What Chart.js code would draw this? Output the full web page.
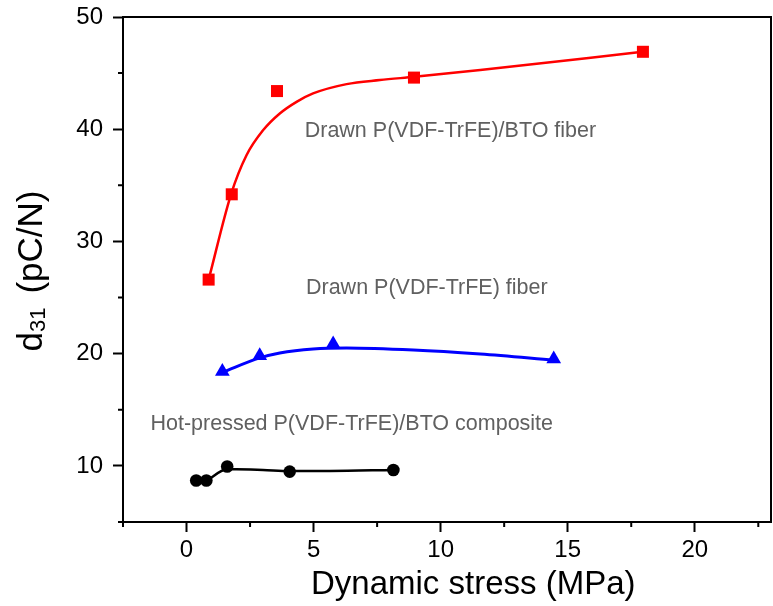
<!DOCTYPE html>
<html>
<head>
<meta charset="utf-8">
<script src="https://cdn.jsdelivr.net/npm/chart.js@4"></script>
<style>
  html, body { margin: 0; padding: 0; background: #fff; }
  canvas { display: block; }
</style>
</head>
<body>
<canvas id="chart" width="773" height="606" style="width:773px;height:606px"></canvas>
<script>
// measured points
const btoFiberX = [0.87, 1.78, 3.56, 8.95, 17.96];
const btoFiberY = [26.6, 34.2, 43.4, 44.6, 46.9];
const fiberX = [1.41, 2.88, 5.77, 14.45];
const fiberY = [18.42, 19.82, 20.87, 19.53];
const hotX = [0.38, 0.78, 1.6, 4.06, 8.14];
const hotY = [8.7, 8.7, 9.94, 9.49, 9.64];

// fitted curves
const btoCurveX = [0.87, 1.76, 2.36, 3.01, 3.67, 4.33, 4.98, 6.30, 7.61, 8.97, 11.56, 17.95];
const btoCurveY = [26.6, 34.26, 37.68, 39.9, 41.4, 42.44, 43.19, 44.02, 44.38, 44.67, 45.27, 46.9];
const fiberCurveX = [1.41, 2.88, 3.67, 4.98, 6.30, 8.93, 11.56, 14.45];
const fiberCurveY = [18.33, 19.62, 20.06, 20.42, 20.51, 20.33, 19.97, 19.44];
const hotCurveX = [0.78, 1.6, 1.96, 3.01, 4.06, 5.64, 8.14];
const hotCurveY = [8.66, 9.70, 9.70, 9.64, 9.55, 9.55, 9.64];

const xTicks = [0, 5, 10, 15, 20];
const yTicks = [10, 20, 30, 40, 50];
const xMinor = [-2.5, 2.5, 7.5, 12.5, 17.5, 22.5];
const yMinor = [5, 15, 25, 35, 45];

const labelTexts = ['Drawn P(VDF-TrFE)/BTO fiber', 'Drawn P(VDF-TrFE) fiber', 'Hot-pressed P(VDF-TrFE)/BTO composite'];
const labelX = [4.65, 4.7, -1.42];
const labelY = [39.8, 25.8, 13.75];

const FONT = '"Liberation Sans", Arial, sans-serif';

function pts(xs, ys) {
  return xs.map((x, i) => ({ x, y: ys[i] }));
}

function markers(xs, ys, color, style, r) {
  return {
    type: 'scatter', data: pts(xs, ys), order: 0,
    pointStyle: style, pointRadius: r, pointHoverRadius: r,
    backgroundColor: color, borderColor: color, borderWidth: 0,
  };
}

function curve(xs, ys, color, w) {
  return {
    type: 'line', data: pts(xs, ys), order: 1,
    borderColor: color, borderWidth: w, pointRadius: 0,
    cubicInterpolationMode: 'monotone', fill: false,
  };
}

// fixed axis box, no label overhang padding
function fixBox(s, size) {
  if (s.isHorizontal()) s.height = size; else s.width = size;
  s.paddingTop = s.paddingBottom = s.paddingLeft = s.paddingRight = 0;
}

const extras = {
  id: 'extras',
  afterDraw(chart) {
    const { ctx, chartArea: a, scales: { x, y } } = chart;
    ctx.save();
    ctx.strokeStyle = '#000';
    ctx.lineWidth = 2;
    ctx.strokeRect(a.left, a.top, a.right - a.left, a.bottom - a.top);

    ctx.beginPath();
    xMinor.forEach(v => {
      const px = x.getPixelForValue(v);
      ctx.moveTo(px, a.bottom);
      ctx.lineTo(px, a.bottom + 5);
    });
    yMinor.forEach(v => {
      const py = y.getPixelForValue(v);
      ctx.moveTo(a.left, py);
      ctx.lineTo(a.left - 5, py);
    });
    ctx.stroke();

    // curve labels
    ctx.fillStyle = '#606060';
    ctx.font = '21.5px ' + FONT;
    ctx.textAlign = 'left';
    ctx.textBaseline = 'middle';
    labelTexts.forEach((t, i) => {
      ctx.fillText(t, x.getPixelForValue(labelX[i]), y.getPixelForValue(labelY[i]));
    });

    // x title
    ctx.fillStyle = '#000';
    ctx.font = '33px ' + FONT;
    ctx.textAlign = 'left';
    ctx.textBaseline = 'alphabetic';
    ctx.fillText('Dynamic stress (MPa)', 311, 594);

    // y title with subscript
    ctx.translate(42, 271);
    ctx.rotate(-Math.PI / 2);
    ctx.font = '35px ' + FONT;
    const w1 = ctx.measureText('d').width;
    const w3 = ctx.measureText('(pC/N)').width;
    ctx.font = '22px ' + FONT;
    const w2 = ctx.measureText('31').width;
    const gap = 14;
    let sx = -(w1 + w2 + gap + w3) / 2;
    ctx.font = '35px ' + FONT;
    ctx.fillText('d', sx, 0);
    sx += w1;
    ctx.font = '22px ' + FONT;
    ctx.fillText('31', sx, 3);
    sx += w2 + gap;
    ctx.font = '35px ' + FONT;
    ctx.fillText('(pC/N)', sx, 0);
    ctx.restore();
  }
};

new Chart(document.getElementById('chart').getContext('2d'), {
  data: {
    datasets: [
      markers(btoFiberX, btoFiberY, '#ff0000', 'rect', 8.5),
      markers(fiberX, fiberY, '#0000ff', 'triangle', 8.5),
      markers(hotX, hotY, '#000000', 'circle', 6.3),
      curve(btoCurveX, btoCurveY, '#ff0000', 2.5),
      curve(fiberCurveX, fiberCurveY, '#0000ff', 3),
      curve(hotCurveX, hotCurveY, '#000000', 2.5),
    ],
  },
  options: {
    responsive: false,
    animation: false,
    layout: { autoPadding: false, padding: { top: 17, right: 2, left: 0, bottom: 0 } },
    plugins: { legend: { display: false }, tooltip: { enabled: false } },
    scales: {
      x: {
        type: 'linear', min: -2.5, max: 23,
        afterBuildTicks: s => { s.ticks = xTicks.map(v => ({ value: v })); },
        afterFit: s => fixBox(s, 84),
        border: { display: false },
        grid: { drawOnChartArea: false, tickLength: 10, tickWidth: 2, tickColor: '#000' },
        ticks: { color: '#000', font: { family: FONT, size: 24 }, padding: 4, maxRotation: 0 },
      },
      y: {
        type: 'linear', min: 5, max: 50,
        afterBuildTicks: s => { s.ticks = yTicks.map(v => ({ value: v })); },
        afterFit: s => fixBox(s, 123),
        border: { display: false },
        grid: { drawOnChartArea: false, tickLength: 10, tickWidth: 2, tickColor: '#000' },
        ticks: { color: '#000', font: { family: FONT, size: 24 }, padding: 10 },
      },
    },
  },
  plugins: [extras],
});
</script>
</body>
</html>
